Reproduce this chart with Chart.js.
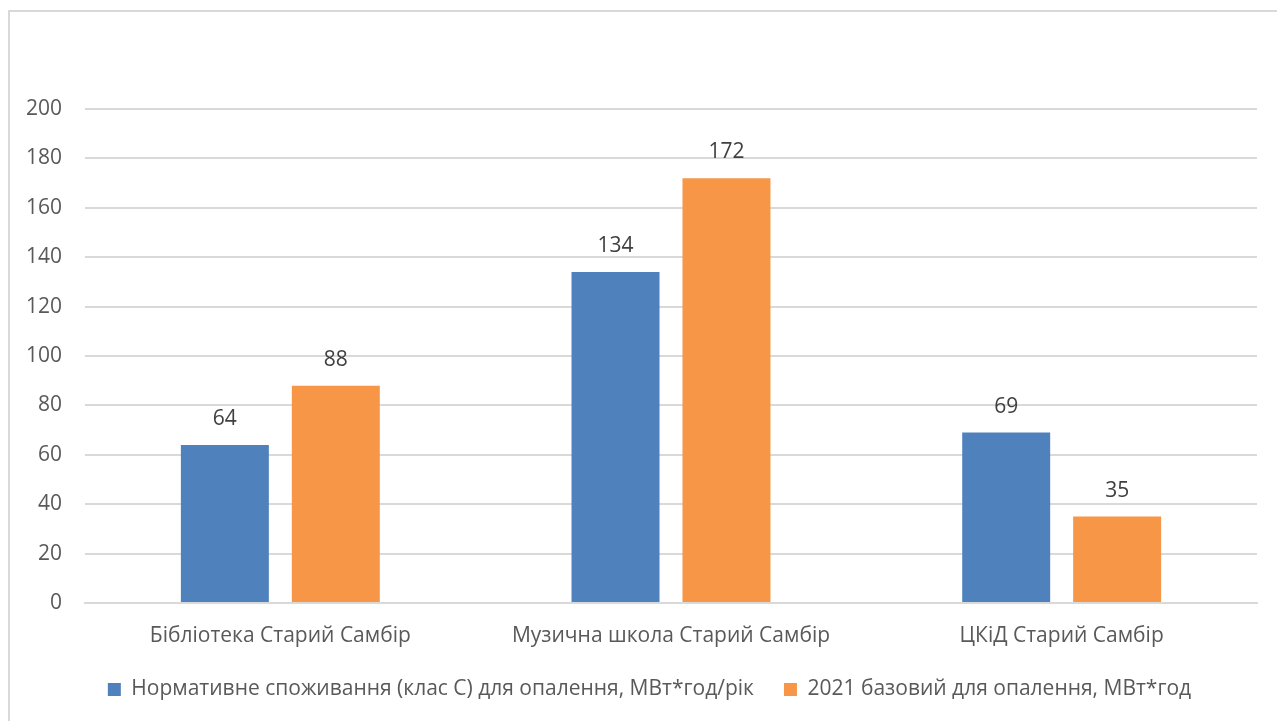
<!DOCTYPE html>
<html>
<head>
<meta charset="utf-8">
<script src="https://cdn.jsdelivr.net/npm/chart.js@4.4.1/dist/chart.umd.min.js"></script>
<style>
  html, body { margin: 0; padding: 0; background: #ffffff; }
  #wrap { position: relative; width: 1277px; height: 721px; overflow: hidden; }
  #frame { position: absolute; left: 8px; top: 10px; width: 1300px; height: 760px; border: 2px solid #d9d9d9; box-sizing: border-box; }
  canvas { position: absolute; left: 0; top: 0; }
</style>
</head>
<body>
<div id="wrap">
  <div id="frame"></div>
  <canvas id="c" width="1277" height="721"></canvas>
</div>
<script>
const categories = ["Бібліотека Старий Самбір", "Музична школа Старий Самбір", "ЦКіД Старий Самбір"];
const normativeValues = [64, 134, 69];
const baseline2021Values = [88, 172, 35];
const seriesNames = ["Нормативне споживання (клас С) для опалення, МВт*год/рік", "2021 базовий для опалення, МВт*год"];
const yTicks = [0, 20, 40, 60, 80, 100, 120, 140, 160, 180, 200];

const FONT = "'Open Sans', 'DejaVu Sans', sans-serif";
const FS = 21;

const dataLabels = {
  id: 'dataLabels',
  afterDatasetsDraw(chart) {
    const ctx = chart.ctx;
    ctx.save();
    ctx.font = FS + "px " + FONT;
    ctx.fillStyle = "#404040";
    ctx.textAlign = "center";
    ctx.textBaseline = "middle";
    chart.data.datasets.forEach((ds, i) => {
      const meta = chart.getDatasetMeta(i);
      meta.data.forEach((bar, j) => {
        ctx.fillText(String(ds.data[j]), bar.x, bar.y - 26);
      });
    });
    ctx.restore();
  }
};

const legendShift = {
  id: 'legendShift',
  afterLayout(chart) {
    if (chart.legend) { chart.legend.left += 21; chart.legend.right += 21; }
  }
};

new Chart(document.getElementById('c'), {
  type: 'bar',
  data: {
    labels: categories,
    datasets: [
      { label: seriesNames[0], data: normativeValues, backgroundColor: '#4F81BD', categoryPercentage: 0.568, barPercentage: 0.793 },
      { label: seriesNames[1], data: baseline2021Values, backgroundColor: '#F79646', categoryPercentage: 0.568, barPercentage: 0.793 }
    ]
  },
  options: {
    responsive: false,
    animation: false,
    devicePixelRatio: 1,
    layout: { padding: { left: 0, right: 20, top: 109, bottom: 11 } },
    plugins: {
      tooltip: { enabled: false },
      legend: {
        position: 'bottom',
        labels: {
          boxWidth: 13, boxHeight: 13, padding: 30,
          color: '#595959',
          font: { family: FONT, size: FS }
        }
      }
    },
    scales: {
      x: {
        grid: { display: false, drawTicks: false },
        border: { display: true, color: '#d9d9d9', width: 2 },
        ticks: { color: '#595959', font: { family: FONT, size: FS }, padding: 20, maxRotation: 0 },
        afterFit(scale) { scale.height = 46; }
      },
      y: {
        min: 0, max: 200,
        afterBuildTicks(scale) { scale.ticks = yTicks.map(v => ({ value: v })); },
        grid: { color: '#d9d9d9', lineWidth: 2, drawTicks: false },
        border: { display: false },
        ticks: { color: '#595959', font: { family: FONT, size: FS }, padding: 23 },
        afterFit(scale) { scale.width = 85; }
      }
    }
  },
  plugins: [dataLabels, legendShift]
});
</script>
</body>
</html>
